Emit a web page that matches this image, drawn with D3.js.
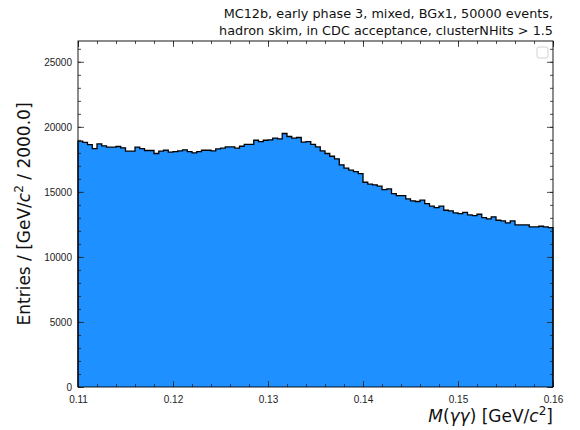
<!DOCTYPE html>
<html>
<head>
<meta charset="utf-8">
<script src="https://cdn.jsdelivr.net/npm/d3@7"></script>
<style>
  html, body { margin: 0; padding: 0; background: #fff; }
  svg { display: block; font-family: "DejaVu Sans", sans-serif; }
</style>
</head>
<body>
<svg id="chart" width="580" height="430"></svg>
<script>
// Histogram of M(γγ): 100 bins between 0.11 and 0.16 GeV/c^2
const binLo = 0.11;
const binHi = 0.16;
const counts = [
  18900, 18800, 18640, 18330, 18690, 18540, 18440, 18440, 18490, 18390,
  18130, 18130, 18440, 18330, 18180, 18180, 17950, 18130, 18200, 18050,
  18100, 18150, 18230, 18100, 18000, 18100, 18200, 18200, 18150, 18300,
  18360, 18460, 18460, 18360, 18510, 18660, 18660, 18970, 18870, 18970,
  19000, 19130, 19080, 19490, 19260, 19130, 19180, 18820, 18870, 18660,
  18460, 18150, 17950, 17740, 17540, 17080, 16820, 16670, 16560, 16410,
  15740, 15590, 15540, 15440, 15180, 15230, 14870, 14720, 14720, 14460,
  14310, 14260, 14360, 14100, 13900, 13790, 13900, 13590, 13540, 13380,
  13330, 13430, 13230, 13180, 13280, 13020, 12920, 13080, 12820, 12770,
  12620, 12770, 12460, 12460, 12460, 12310, 12310, 12360, 12310, 12260
];
const xTicks = [0.11, 0.12, 0.13, 0.14, 0.15, 0.16];
const yTicks = [0, 5000, 10000, 15000, 20000, 25000];
const yMax = 26600;
const titleLines = [
  "MC12b, early phase 3, mixed, BGx1, 50000 events,",
  "hadron skim, in CDC acceptance, clusterNHits > 1.5"
];

const svg = d3.select("#chart");
const m = { left: 78, right: 553, top: 41, bottom: 387 };

const x = d3.scaleLinear().domain([binLo, binHi]).range([m.left, m.right]);
const y = d3.scaleLinear().domain([0, yMax]).range([m.bottom, m.top]);

const nBins = counts.length;
const w = (binHi - binLo) / nBins;
const bins = counts.map((c, i) => ({ x0: binLo + i * w, x1: binLo + (i + 1) * w, c }));

// step profile of the histogram
const pts = [[binLo, 0]];
bins.forEach(b => { pts.push([b.x0, b.c]); pts.push([b.x1, b.c]); });
pts.push([binHi, 0]);
const stepLine = d3.line().x(d => x(d[0])).y(d => y(d[1]));

// filled area
svg.append("path")
  .attr("d", stepLine(pts) + "Z")
  .attr("fill", "#1e90ff");

// outline
svg.append("path")
  .attr("d", stepLine(pts))
  .attr("fill", "none")
  .attr("stroke", "#000")
  .attr("stroke-width", 1.3);

// axes with inward ticks on every side
const tickColor = "#222";
function styleAxis(g) {
  g.selectAll("path").remove();
  g.selectAll("line").attr("stroke", tickColor).attr("stroke-width", 0.8);
  g.selectAll("text").attr("fill", "#222").attr("font-size", "10px");
}
const xMinor = d3.range(0, 26).map(i => binLo + i * 0.002);
const yMinor = d3.range(0, 27).map(i => i * 1000).filter(v => v <= yMax);

// bottom
svg.append("g").attr("transform", `translate(0,${m.bottom})`)
  .call(d3.axisBottom(x).tickValues(xMinor).tickSize(-3).tickFormat(""))
  .call(styleAxis);
svg.append("g").attr("transform", `translate(0,${m.bottom})`)
  .call(d3.axisBottom(x).tickValues(xTicks).tickSize(-6).tickPadding(9).tickFormat(d3.format(".2f")))
  .call(styleAxis);
// top
svg.append("g").attr("transform", `translate(0,${m.top})`)
  .call(d3.axisTop(x).tickValues(xMinor).tickSize(-3).tickFormat(""))
  .call(styleAxis);
svg.append("g").attr("transform", `translate(0,${m.top})`)
  .call(d3.axisTop(x).tickValues(xTicks).tickSize(-6).tickFormat(""))
  .call(styleAxis);
// left
svg.append("g").attr("transform", `translate(${m.left},0)`)
  .call(d3.axisLeft(y).tickValues(yMinor).tickSize(-3).tickFormat(""))
  .call(styleAxis);
svg.append("g").attr("transform", `translate(${m.left},0)`)
  .call(d3.axisLeft(y).tickValues(yTicks).tickSize(-6).tickPadding(6).tickFormat(d3.format("d")))
  .call(styleAxis);
// right
svg.append("g").attr("transform", `translate(${m.right},0)`)
  .call(d3.axisRight(y).tickValues(yMinor).tickSize(-3).tickFormat(""))
  .call(styleAxis);
svg.append("g").attr("transform", `translate(${m.right},0)`)
  .call(d3.axisRight(y).tickValues(yTicks).tickSize(-6).tickFormat(""))
  .call(styleAxis);

// frame
svg.append("rect")
  .attr("x", m.left).attr("y", m.top)
  .attr("width", m.right - m.left).attr("height", m.bottom - m.top)
  .attr("fill", "none").attr("stroke", "#000").attr("stroke-width", 0.9);

// empty legend frame
svg.append("rect")
  .attr("x", 537).attr("y", 47).attr("width", 11).attr("height", 11)
  .attr("rx", 2).attr("fill", "#fff").attr("stroke", "#ccc").attr("stroke-width", 0.9);

// title
svg.append("g").selectAll("text").data(titleLines).join("text")
  .attr("x", m.right).attr("y", (d, i) => 18 + i * 17)
  .attr("text-anchor", "end").attr("font-size", "12.8px").attr("fill", "#111")
  .text(d => d);

// y label
const yl = svg.append("text")
  .attr("transform", `translate(30,${(m.top + m.bottom) / 2}) rotate(-90)`)
  .attr("text-anchor", "middle").attr("font-size", "17px").attr("fill", "#111");
yl.append("tspan").text("Entries / [GeV/");
yl.append("tspan").attr("font-style", "italic").text("c");
yl.append("tspan").attr("font-size", "12px").attr("dy", -7).text("2");
yl.append("tspan").attr("dy", 7).text(" / 2000.0]");

// x label
const xl = svg.append("text")
  .attr("x", m.right).attr("y", 422)
  .attr("text-anchor", "end").attr("font-size", "17px").attr("fill", "#111");
xl.append("tspan").attr("font-style", "italic").text("M");
xl.append("tspan").text("(");
xl.append("tspan").attr("font-style", "italic").text("γγ");
xl.append("tspan").text(") [GeV/");
xl.append("tspan").attr("font-style", "italic").text("c");
xl.append("tspan").attr("font-size", "12px").attr("dy", -7).text("2");
xl.append("tspan").attr("dy", 7).text("]");
</script>
</body>
</html>
